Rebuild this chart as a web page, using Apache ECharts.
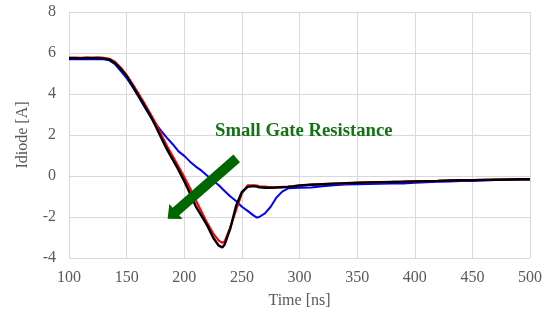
<!DOCTYPE html>
<html>
<head>
<meta charset="utf-8">
<script src="https://cdn.jsdelivr.net/npm/echarts@6/dist/echarts.min.js"></script>
<style>html,body{margin:0;padding:0;background:#fff}#c{width:553px;height:320px}</style>
</head>
<body>
<div id="c"></div>
<script>
const time = [100,105,110,115,120,125,130,135,140,145,150,155,160,165,170,175,180,185,190,195,200,205,210,215,220,225,230,233,235,240,245,250,255,260,263,265,270,275,280,285,290,295,300,310,320,330,340,350,360,370,380,390,400,410,420,430,440,450,460,470,480,490,500];
const blue  = [5.70,5.69,5.71,5.70,5.70,5.69,5.70,5.64,5.45,5.12,4.78,4.35,3.90,3.42,2.95,2.55,2.20,1.86,1.55,1.20,0.98,0.70,0.46,0.26,0.01,-0.22,-0.45,-0.62,-0.73,-1.00,-1.22,-1.50,-1.70,-1.92,-2.03,-2.00,-1.82,-1.50,-1.05,-0.76,-0.60,-0.58,-0.57,-0.56,-0.50,-0.45,-0.42,-0.40,-0.39,-0.38,-0.37,-0.36,-0.33,-0.31,-0.28,-0.27,-0.25,-0.24,-0.22,-0.20,-0.20,-0.18,-0.18];
const red   = [5.77,5.78,5.76,5.78,5.77,5.79,5.76,5.72,5.56,5.28,4.92,4.50,4.05,3.58,3.10,2.60,2.02,1.46,0.96,0.46,-0.05,-0.60,-1.18,-1.74,-2.30,-2.80,-3.15,-3.26,-3.20,-2.50,-1.65,-0.85,-0.46,-0.45,-0.47,-0.50,-0.52,-0.55,-0.55,-0.53,-0.52,-0.50,-0.47,-0.42,-0.40,-0.37,-0.36,-0.33,-0.31,-0.30,-0.29,-0.27,-0.26,-0.25,-0.24,-0.22,-0.21,-0.20,-0.19,-0.18,-0.17,-0.16,-0.15];
const black = [5.75,5.75,5.74,5.76,5.75,5.75,5.74,5.68,5.50,5.22,4.88,4.42,3.95,3.48,3.00,2.45,1.87,1.30,0.80,0.30,-0.25,-0.85,-1.48,-1.95,-2.42,-3.00,-3.40,-3.48,-3.35,-2.55,-1.45,-0.78,-0.53,-0.49,-0.52,-0.55,-0.57,-0.57,-0.56,-0.55,-0.53,-0.50,-0.46,-0.43,-0.40,-0.37,-0.35,-0.33,-0.31,-0.30,-0.29,-0.28,-0.26,-0.25,-0.24,-0.22,-0.21,-0.20,-0.19,-0.18,-0.17,-0.16,-0.15];
const xTicks = {min:100, max:500, interval:50};
const yTicks = {min:-4, max:8, interval:2};
const annotationText = 'Small Gate Resistance';
const arrowTail = [245.5, 0.86];
const arrowTip = [185.6, -2.09];
const textAnchor = [226.7, 2.17];

const pair = arr => time.map((t,i)=>[t, arr[i]]);
const font = '"Liberation Serif", "Times New Roman", serif';
const chart = echarts.init(document.getElementById('c'), null, {renderer:'canvas'});
const lineSeries = (name, data, color, w) => ({
  name, type:'line', data: pair(data), showSymbol:false, symbol:'none',
  lineStyle:{color, width:w}, itemStyle:{color}, animation:false, smooth:false
});
chart.setOption({
  animation:false,
  grid:{left:69, right:23, top:12, bottom:62},
  xAxis:{type:'value', min:xTicks.min, max:xTicks.max, interval:xTicks.interval,
    name:'Time [ns]', nameLocation:'middle', nameGap:35,
    nameTextStyle:{fontFamily:font, fontSize:16, color:'#595959'},
    axisLine:{show:true, lineStyle:{color:'#d9d9d9'}}, axisTick:{show:false},
    axisLabel:{fontFamily:font, fontSize:16, color:'#595959', margin:12},
    splitLine:{show:true, lineStyle:{color:'#d9d9d9', width:1}}},
  yAxis:{type:'value', min:yTicks.min, max:yTicks.max, interval:yTicks.interval,
    name:'Idiode [A]', nameLocation:'middle', nameGap:38,
    nameTextStyle:{fontFamily:font, fontSize:16, color:'#595959'},
    axisLine:{show:true, lineStyle:{color:'#d9d9d9'}}, axisTick:{show:false},
    axisLabel:{fontFamily:font, fontSize:16, color:'#595959', margin:13},
    splitLine:{show:true, lineStyle:{color:'#d9d9d9', width:1}}},
  series:[
    lineSeries('blue', blue, '#0000ff', 2),
    lineSeries('red', red, '#ff0000', 2.2),
    lineSeries('black', black, '#000000', 2.4)
  ]
});
const tail = chart.convertToPixel({gridIndex:0}, arrowTail);
const tip = chart.convertToPixel({gridIndex:0}, arrowTip);
const dx = tip[0]-tail[0], dy = tip[1]-tail[1];
const L = Math.hypot(dx,dy);
const u = [dx/L, dy/L], n = [-u[1], u[0]];
const headLen = 11, shaftHalf = 5, headHalf = 10;
const base = [tip[0]-u[0]*headLen, tip[1]-u[1]*headLen];
const P = (p, k) => [p[0]+n[0]*k, p[1]+n[1]*k];
const poly = [P(tail,shaftHalf), P(base,shaftHalf), P(base,headHalf), tip, P(base,-headHalf), P(base,-shaftHalf), P(tail,-shaftHalf)];
const tp = chart.convertToPixel({gridIndex:0}, textAnchor);
chart.setOption({
  graphic:[
    {type:'polygon', shape:{points:poly}, style:{fill:'#006600'}, z:100},
    {type:'text', x:tp[0], y:tp[1], style:{text:annotationText, fill:'#137213', font:'bold 18.7px ' + font, textVerticalAlign:'middle', textAlign:'left'}, z:100}
  ]
});
</script>
</body>
</html>
